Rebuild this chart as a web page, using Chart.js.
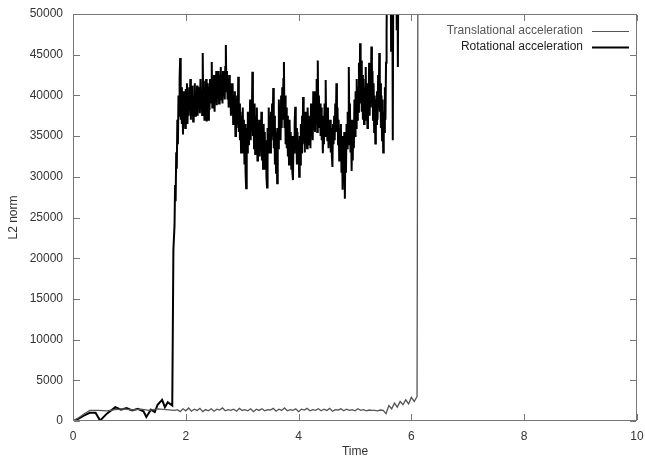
<!DOCTYPE html>
<html>
<head>
<meta charset="utf-8">
<script src="https://cdn.jsdelivr.net/npm/chart.js@4.4.1/dist/chart.umd.min.js"></script>
<style>
  html, body { margin: 0; padding: 0; background: #fff; }
  #wrap { width: 645px; height: 462px; }
</style>
</head>
<body>
<div id="wrap"><canvas id="chartCanvas" width="645" height="462"></canvas></div>
<script>
// axis ranges and tick labels
const xTicks = [0, 2, 4, 6, 8, 10];
const yTicks = [0, 5000, 10000, 15000, 20000, 25000, 30000, 35000, 40000, 45000, 50000];
const seriesNames = ['Translational acceleration', 'Rotational acceleration'];

// translational: early part as [time, value], then a regular sampled part
const transStart = [[0, 0], [0.1, 400], [0.2, 900], [0.3, 1300], [0.45, 1300], [0.6, 1250], [0.75, 1400],
  [0.9, 1500], [1.05, 1350], [1.2, 1450], [1.35, 1300], [1.5, 1500], [1.65, 1400], [1.8, 1300]];
const transT0 = 1.85;
const transDt = 0.05;
const transValues = [
  1400, 1150, 1500, 1250, 1600, 1200, 1450, 1300, 1550, 1150,
  1400, 1250, 1500, 1200, 1450, 1350, 1600, 1250, 1400, 1300,
  1450, 1200, 1550, 1300, 1400, 1250, 1500, 1150, 1450, 1300,
  1500, 1250, 1400, 1350, 1550, 1200, 1450, 1300, 1600, 1250,
  1400, 1300, 1500, 1150, 1450, 1350, 1550, 1250, 1400, 1300,
  1500, 1250, 1450, 1300, 1550, 1200, 1400, 1350, 1500, 1250,
  1450, 1300, 1400, 1250, 1500, 1300, 1400, 1250, 1350, 1300,
  1300, 1250, 1350, 1300, 900, 1900, 1500, 2200, 1700, 2400,
  2000, 2600, 2100, 2900, 2400, 3000
];
const transEnd = [[6.12, 70000]];

// rotational: early part as [time, value], then the noisy sampled part (one row per 0.1 s)
const rotStart = [[0, 0], [0.1, 300], [0.2, 700], [0.3, 1000], [0.4, 1000], [0.48, 50], [0.6, 900],
  [0.75, 1700], [0.85, 1400], [0.95, 1600], [1.05, 1300], [1.15, 1500], [1.25, 1200], [1.3, 500],
  [1.38, 1400], [1.45, 1100], [1.5, 2000], [1.58, 2600], [1.63, 1700], [1.68, 2300], [1.76, 1900],
  [1.78, 21000]];
const rotT0 = 1.80;
const rotDt = 0.01;
const rotValues = [
  24000, 29000, 27000, 33000, 31000, 37000, 34000, 40000, 37500, 42000,
  44600, 37000, 41000, 36500, 40500, 35200, 39500, 37000, 40500, 36000,
  40800, 37200, 41500, 36500, 40000, 37500, 41000, 38500, 42000, 37000,
  40500, 38000, 41200, 36800, 40000, 38200, 41500, 37500, 40200, 38000,
  41200, 37500, 40800, 38500, 41000, 37800, 42000, 38500, 40600, 37600,
  45200, 38000, 41800, 37000, 40800, 38500, 42000, 36800, 41500, 38500,
  37000, 41000, 38200, 42000, 39000, 41500, 44100, 38500, 42000, 39500,
  42500, 38000, 41800, 39200, 43000, 38800, 42200, 40000, 43000, 39000,
  42500, 39500, 43500, 40000, 42000, 39000, 43000, 40500, 42500, 39500,
  43500, 46200, 40500, 43000, 39500, 42000, 38500, 42500, 40000, 41500,
  37500, 41000, 38000, 41500, 36500, 40000, 37000, 40500, 35000, 39500,
  36000, 40000, 36500, 42300, 35500, 39000, 34500, 38000, 33000, 37500,
  34000, 38500, 33000, 37000, 31500, 36500, 30500, 28600, 36000, 33000,
  38000, 34000, 37500, 35000, 39500, 34500, 38000, 36000, 42900, 35000,
  38500, 33500, 39000, 32800, 37500, 34500, 38500, 32000, 36500, 33500,
  37000, 32500, 36000, 33500, 38000, 32000, 35500, 31000, 36500, 32500,
  35500, 31000, 34500, 30000, 28700, 36000, 33000, 38500, 34000, 37500,
  33000, 38000, 34500, 39000, 35000, 40900, 33500, 37500, 31500, 36000,
  30500, 35500, 29200, 36000, 33500, 39500, 35000, 38500, 34500, 40000,
  36000, 41000, 37000, 42000, 44100, 36000, 40000, 34000, 38500, 33500,
  37500, 32500, 36500, 31500, 37000, 33000, 35500, 31000, 35000, 30500,
  29600, 35000, 33000, 36500, 38600, 33500, 36000, 31500, 35500, 32000,
  34500, 30000, 35000, 31500, 36500, 33000, 37500, 34000, 39800, 34500,
  37500, 33000, 38000, 34500, 37000, 33500, 38500, 35000, 37500, 34000,
  37000, 33500, 39000, 35000, 38000, 34500, 40500, 36000, 39000, 35500,
  40500, 36500, 42000, 35500, 44300, 37000, 40000, 36000, 39000, 35000,
  38500, 34500, 37000, 32900, 37500, 34000, 39000, 35000, 41900, 35500,
  38000, 34500, 38500, 33500, 36500, 34000, 37000, 33000, 36000, 32500,
  31200, 36500, 34000, 37500, 34500, 39000, 35500, 41500, 36000, 38500,
  34000, 37000, 32000, 36000, 33000, 36500, 30500, 35000, 28400, 34500,
  31000, 35500, 27300, 34000, 30500, 36500, 33500, 38000, 34000, 43500,
  36000, 39000, 33000, 37000, 30700, 35500, 32000, 37000, 33500, 39500,
  35000, 40500, 36000, 42000, 37000, 41000, 38000, 44000, 39000, 46400,
  39000, 44300, 38000, 42500, 37000, 42000, 36500, 41000, 38000, 43500,
  37000, 41500, 36000, 41000, 38000, 44000, 37500, 42500, 38500, 46000,
  39500, 43000, 37000, 41500, 35500, 40000, 34100, 39500, 36500, 40500,
  37000, 42500, 38500, 45200, 38000, 41500, 36000, 40000, 34500, 39500,
  33000, 38000, 35500, 41000, 37000, 44000, 48000, 56000, 62000, 53000,
  60000, 66000, 55000, 62000, 45500, 60000, 58000, 34500, 58000, 65000,
  52000, 60000, 56000, 62000, 48000, 60000, 43500, 58000, 62000, 66000,
  60000, 65000, 62000, 70000, 70000
];

function buildPoints(start, t0, dt, values, end) {
  const pts = start.map(p => ({ x: p[0], y: p[1] }));
  values.forEach((v, i) => pts.push({ x: +(t0 + i * dt).toFixed(3), y: v }));
  (end || []).forEach(p => pts.push({ x: p[0], y: p[1] }));
  return pts;
}

const transPoints = buildPoints(transStart, transT0, transDt, transValues, transEnd);
const rotPoints = buildPoints(rotStart, rotT0, rotDt, rotValues);

const fontFamily = '"Liberation Sans", Arial, sans-serif';

// gnuplot style frame with inward ticks on all sides, plus legend inside the plot
const framePlugin = {
  id: 'frame',
  afterDraw(chart) {
    const ctx = chart.ctx;
    const a = chart.chartArea;
    const xs = chart.scales.x;
    const ys = chart.scales.y;
    const l = Math.round(a.left);
    const r = Math.round(a.right) - 1;
    const t = Math.round(a.top);
    const b = Math.round(a.bottom) - 1;
    ctx.save();
    ctx.fillStyle = '#777777';
    ctx.fillRect(l, t, r - l + 1, 1);
    ctx.fillRect(l, b, r - l + 1, 1);
    ctx.fillRect(l, t, 1, b - t + 1);
    ctx.fillRect(r, t, 1, b - t + 1);
    xTicks.forEach(v => {
      const px = Math.round(xs.getPixelForValue(v));
      ctx.fillRect(px, b - 6, 1, 6);
      ctx.fillRect(px, t + 1, 1, 6);
    });
    yTicks.forEach(v => {
      const py = Math.round(ys.getPixelForValue(v));
      ctx.fillRect(l + 1, py, 6, 1);
      ctx.fillRect(r - 6, py, 6, 1);
    });

    // legend
    ctx.font = '12px ' + fontFamily;
    ctx.textAlign = 'right';
    ctx.textBaseline = 'middle';
    chart.data.datasets.forEach((ds, i) => {
      const y = a.top + 17 + i * 16;
      ctx.fillStyle = i === 0 ? '#555' : '#222';
      ctx.fillText(ds.label, a.right - 54, y);
      ctx.strokeStyle = ds.borderColor;
      ctx.lineWidth = i === 0 ? 1.2 : 1.8;
      ctx.beginPath();
      ctx.moveTo(a.right - 45, y + 0.5);
      ctx.lineTo(a.right - 8, y + 0.5);
      ctx.stroke();
    });
    ctx.restore();
  }
};

const ctx = document.getElementById('chartCanvas').getContext('2d');
new Chart(ctx, {
  type: 'line',
  data: {
    datasets: [{
      label: seriesNames[0],
      data: transPoints,
      borderColor: '#555555',
      borderWidth: 1.3,
      pointRadius: 0,
      tension: 0
    }, {
      label: seriesNames[1],
      data: rotPoints,
      borderColor: '#000000',
      borderWidth: 2,
      pointRadius: 0,
      tension: 0
    }]
  },
  options: {
    responsive: false,
    animation: false,
    layout: { padding: { top: 14, right: 8, left: 0, bottom: 0 } },
    plugins: {
      legend: { display: false },
      tooltip: { enabled: false }
    },
    scales: {
      x: {
        type: 'linear',
        min: 0,
        max: 10,
        afterFit: s => { s.height = 41; s.paddingRight = 0; s.paddingLeft = 0; },
        afterBuildTicks: s => { s.ticks = xTicks.map(v => ({ value: v })); },
        grid: { display: false, drawTicks: false },
        border: { display: false },
        ticks: { color: '#333', padding: 8, font: { family: fontFamily, size: 12 }, maxRotation: 0, callback: v => String(v) },
        title: { display: true, text: 'Time', color: '#333', font: { family: fontFamily, size: 12 }, padding: { top: 0, bottom: 3 } }
      },
      y: {
        type: 'linear',
        min: 0,
        max: 50000,
        afterFit: s => { s.width = 73; s.paddingTop = 0; s.paddingBottom = 0; },
        afterBuildTicks: s => { s.ticks = yTicks.map(v => ({ value: v })); },
        grid: { display: false, drawTicks: false },
        border: { display: false },
        ticks: { color: '#333', padding: 10, font: { family: fontFamily, size: 12 }, callback: v => String(v) },
        title: { display: true, text: 'L2 norm', color: '#333', font: { family: fontFamily, size: 12 }, padding: { top: 6, bottom: 0 } }
      }
    }
  },
  plugins: [framePlugin]
});
</script>
</body>
</html>
